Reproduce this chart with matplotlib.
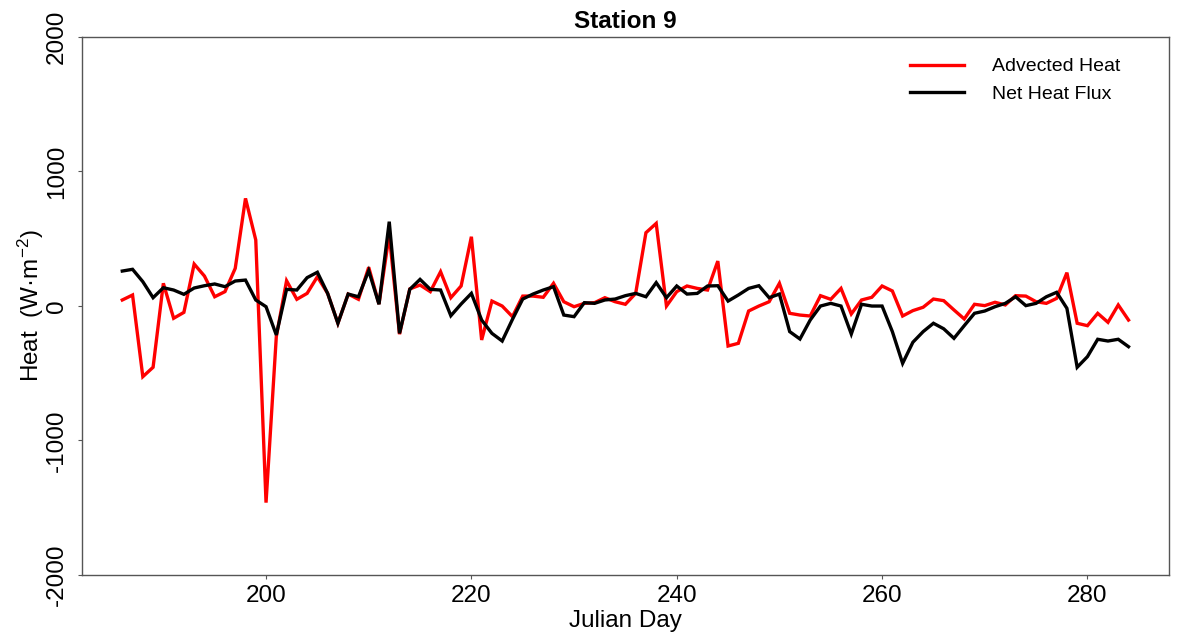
import numpy as np
import matplotlib
matplotlib.use('Agg')
import matplotlib.pyplot as plt

plt.rcParams['font.family'] = ['Liberation Sans', 'DejaVu Sans']
plt.rcParams['mathtext.fontset'] = 'custom'
plt.rcParams['mathtext.rm'] = 'Liberation Sans'
plt.rcParams['mathtext.it'] = 'Liberation Sans:italic'
plt.rcParams['axes.unicode_minus'] = False

# julian days 186..284
days = list(range(186, 285))

advected_heat = [
    44, 81, -526, -456, 168, -92, -48, 311, 222, 68,
    106, 279, 799, 490, -1462, -229, 187, 49, 93, 217,
    93, -129, 88, 49, 287, 14, 530, -210, 126, 155,
    106, 254, 61, 148, 514, -253, 36, -1, -80, 73,
    73, 64, 168, 31, -6, 19, 24, 61, 31, 12,
    93, 544, 613, -1, 106, 148, 130, 118, 333, -298,
    -278, -38, -1, 31, 168, -55, -68, -75, 76, 49,
    130, -60, 44, 64, 148, 111, -75, -35, -10, 51,
    39, -30, -97, 12, 2, 27, 7, 76, 73, 31,
    19, 56, 247, -129, -147, -55, -122, 7, -105]

net_heat_flux = [
    259, 272, 180, 61, 135, 118, 86, 133, 150, 163,
    143, 185, 192, 44, -6, -216, 123, 118, 210, 250,
    93, -129, 88, 68, 262, 12, 626, -204, 123, 197,
    123, 118, -73, 14, 93, -105, -204, -261, -100, 51,
    88, 118, 143, -68, -80, 24, 19, 44, 51, 76,
    93, 68, 173, 61, 148, 88, 93, 148, 150, 36,
    81, 130, 150, 61, 88, -191, -246, -105, -1, 19,
    -1, -209, 12, -1, -1, -191, -427, -270, -191, -129,
    -170, -241, -147, -55, -38, -6, 19, 68, 2, 19,
    68, 101, -18, -456, -377, -248, -261, -248, -303]

xticks = [200, 220, 240, 260, 280]
yticks = [-2000, -1000, 0, 1000, 2000]

fig = plt.figure(figsize=(11.77, 6.34), dpi=100)
ax = fig.add_axes([0.0697, 0.093, 0.9233, 0.849])

ax.plot(days, advected_heat, color='#ff0000', lw=2.4, label='Advected Heat', solid_joinstyle='miter')
ax.plot(days, net_heat_flux, color='black', lw=2.4, label='Net Heat Flux', solid_joinstyle='miter')

pad = 0.04 * (days[-1] - days[0])
ax.set_xlim(days[0] - pad, days[-1] + pad)
ax.set_ylim(-2000, 2000)

ax.set_xticks(xticks)
ax.set_yticks(yticks)
ax.tick_params(axis='both', length=3, width=0.8, color='#555555', labelsize=17.5)
ax.tick_params(axis='x', pad=4)
ax.tick_params(axis='y', pad=7)
for lab in ax.get_yticklabels():
    lab.set_rotation(90)
    lab.set_va('center')

for sp in ax.spines.values():
    sp.set_color('#555555')
    sp.set_linewidth(1.0)

ax.set_xlabel('Julian Day', fontsize=17.5, labelpad=2)
ax.set_ylabel('Heat  (W\u00b7m$^{-2}$)', fontsize=17.5, labelpad=0)
ax.set_title('Station 9', fontsize=17.5, fontweight='bold', pad=6)

ax.legend(loc='upper right', frameon=False, fontsize=14, handlelength=2.8,
          handletextpad=1.4, borderaxespad=0.6, labelspacing=0.5,
          bbox_to_anchor=(0.973, 0.997))

fig.savefig('out.png', dpi=100)
